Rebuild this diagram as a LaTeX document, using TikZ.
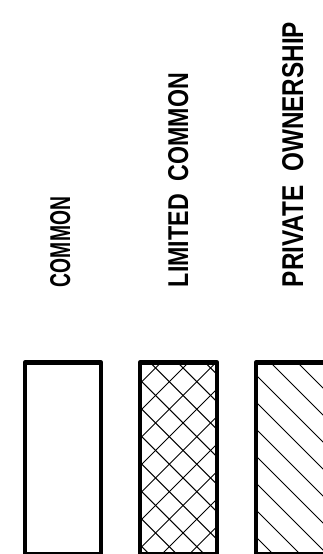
\documentclass[tikz,border=0pt]{standalone}
\usepackage{fontspec}
\setmainfont{Liberation Sans}
\usepackage{graphicx}
\tikzset{
  frame/.style={line width=4.5pt, line join=round},
  hatch/.style={line width=1pt},
  label/.style={rotate=90, anchor=south west, inner sep=0pt, outer sep=0pt, font=\bfseries}
}
\begin{document}
\begin{tikzpicture}[x=1pt,y=-1pt]
\useasboundingbox (0,0) rectangle (323,554);
\clip (0,0) rectangle (323,554);
% labels
\node[label] (common) at (70.5,287) {\resizebox{90pt}{20pt}{COMMON}};
\node[label] (limited) at (188.5,287) {\resizebox{214pt}{20pt}{LIMITED\ \ COMMON}};
\node[label] (private) at (303.5,287) {\resizebox{265pt}{21pt}{PRIVATE\ \ OWNERSHIP}};
% box 1
\draw[frame] (25,362.5) rectangle (101,554.5);
% box 2 crosshatch
\begin{scope}
  \clip (140,362.5) rectangle (217,554.5);
  \foreach \k in {-8,...,3}{
    \pgfmathsetmacro{\c}{-212.4+27.5*\k}
    \draw[hatch] ({\c+300},300) -- ({\c+600},600);
  }
  \foreach \k in {-2,...,9}{
    \pgfmathsetmacro{\d}{551+27.5*\k}
    \draw[hatch] ({\d-300},300) -- ({\d-600},600);
  }
\end{scope}
\draw[frame] (140,362.5) rectangle (217,554.5);
% box 3 single hatch
\begin{scope}
  \clip (256,362.5) rectangle (400,554.5);
  \foreach \k in {-8,...,3}{
    \pgfmathsetmacro{\c}{-92+27*\k}
    \draw[hatch] ({\c+300},300) -- ({\c+600},600);
  }
\end{scope}
\draw[frame] (256,362.5) rectangle (400,554.5);
\end{tikzpicture}
\end{document}
